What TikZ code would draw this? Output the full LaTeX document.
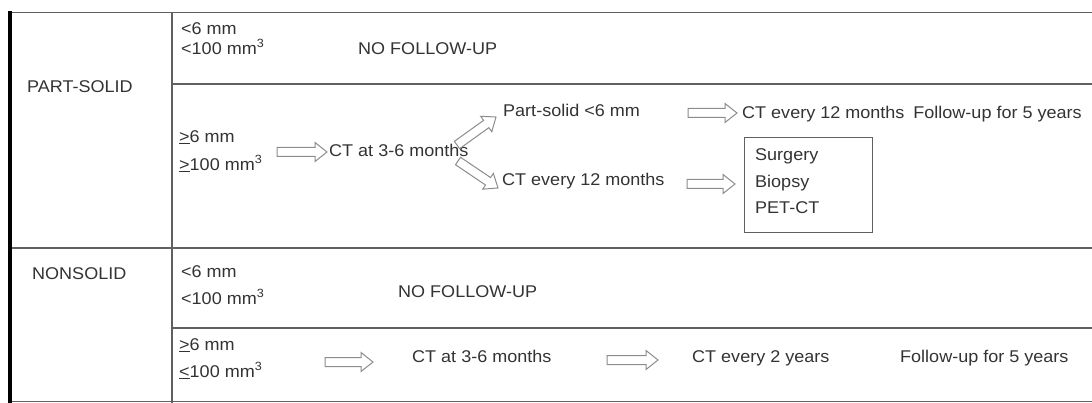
\documentclass[tikz,border=0pt]{standalone}
\usepackage{fontspec}
\setmainfont[FakeStretch=1.06]{Liberation Sans}
\usetikzlibrary{calc}
\definecolor{ink}{HTML}{333333}
\definecolor{rulec}{HTML}{606060}
\definecolor{arrc}{HTML}{8C8C8C}
\newcommand\harr[2]{%
  \draw[harrow] let \p1=(#1), \p2=(#2),
    \n1={atan2(\y2-\y1,\x2-\x1)}, \n2={veclen(\x2-\x1,\y2-\y1)} in
    [shift={(\p1)}, rotate=\n1]
    (0pt,-4.5pt) -- (\n2*1pt-12pt,-4.5pt) -- (\n2*1pt-12pt,-9.5pt) -- (\n2*1pt,0pt)
    -- (\n2*1pt-12pt,9.5pt) -- (\n2*1pt-12pt,4.5pt) -- (0pt,4.5pt) -- cycle;}
\begin{document}
\begin{tikzpicture}[x=1pt,y=-1pt,
  txt/.style={font=\fontsize{17}{20}\selectfont, text=ink, inner sep=0pt,
    anchor=west, text height=12pt, text depth=3.5pt},
  grid/.style={draw=rulec, line width=1.3pt},
  harrow/.style={draw=arrc, line width=1pt, fill=white, line join=miter},
  boxc/.style={draw=rulec, line width=1pt}]
\useasboundingbox (0,0) rectangle (1092,403);
% table rules
\draw[grid] (8,12.5) -- (1092,12.5);
\draw[grid] (172,12) -- (172,403);
\draw[grid] (172,84) -- (1092,84);
\draw[grid] (8,248) -- (1092,248);
\draw[grid] (172,328) -- (1092,328);
\draw[grid] (8,401.5) -- (1092,401.5);
\draw[line width=4pt, black] (9.5,11) -- (9.5,403);
% PART-SOLID
\node[txt] (ps) at (27,88) {PART-SOLID};
\node[txt] (ps1a) at (181,30) {<6 mm};
\node[txt] (ps1b) at (181,50) {<100 mm\textsuperscript{3}};
\node[txt] (nf1) at (358,50) {NO FOLLOW-UP};
\node[txt] (ps2a) at (179,138) {\underline{>}6 mm};
\node[txt] (ps2b) at (179,166) {\underline{>}100 mm\textsuperscript{3}};
\node[txt] (ct36a) at (329,152) {CT at 3-6 months};
\node[txt] (psl) at (503,112) {Part-solid <6 mm};
\node[txt] (ct12) at (502,181) {CT every 12 months};
\node[txt] (ct12b) at (742,114) {CT every 12 months\hspace{4pt} Follow-up for 5 years};
\node[boxc, minimum width=128pt, minimum height=95pt, anchor=north west] (box) at (744,137) {};
\node[txt] (surg) at (755,156) {Surgery};
\node[txt] (biop) at (755,183) {Biopsy};
\node[txt] (pet) at (755,209) {PET-CT};
% NONSOLID
\node[txt] (ns) at (32,275) {NONSOLID};
\node[txt] (ns1a) at (181,273) {<6 mm};
\node[txt] (ns1b) at (181,300) {<100 mm\textsuperscript{3}};
\node[txt] (nf2) at (398,293) {NO FOLLOW-UP};
\node[txt] (ns2a) at (179,346) {\underline{>}6 mm};
\node[txt] (ns2b) at (179,373) {\underline{<}100 mm\textsuperscript{3}};
\node[txt] (ct36b) at (412,358) {CT at 3-6 months};
\node[txt] (ct2y) at (692,358) {CT every 2 years};
\node[txt] (fu5) at (900,358) {Follow-up for 5 years};
% arrow end points
\coordinate (a1s) at (277,152); \coordinate (a1e) at (327,152);
\coordinate (a2s) at (457,145); \coordinate (a2e) at (496,117);
\coordinate (a3s) at (458,161); \coordinate (a3e) at (498,188);
\coordinate (a4s) at (688,113); \coordinate (a4e) at (737,113);
\coordinate (a5s) at (687,184); \coordinate (a5e) at (735,184);
\coordinate (a6s) at (325,362); \coordinate (a6e) at (373,362);
\coordinate (a7s) at (607,360); \coordinate (a7e) at (658,360);
\harr{a1s}{a1e}
\harr{a2s}{a2e}
\harr{a3s}{a3e}
\harr{a4s}{a4e}
\harr{a5s}{a5e}
\harr{a6s}{a6e}
\harr{a7s}{a7e}
\end{tikzpicture}
\end{document}
